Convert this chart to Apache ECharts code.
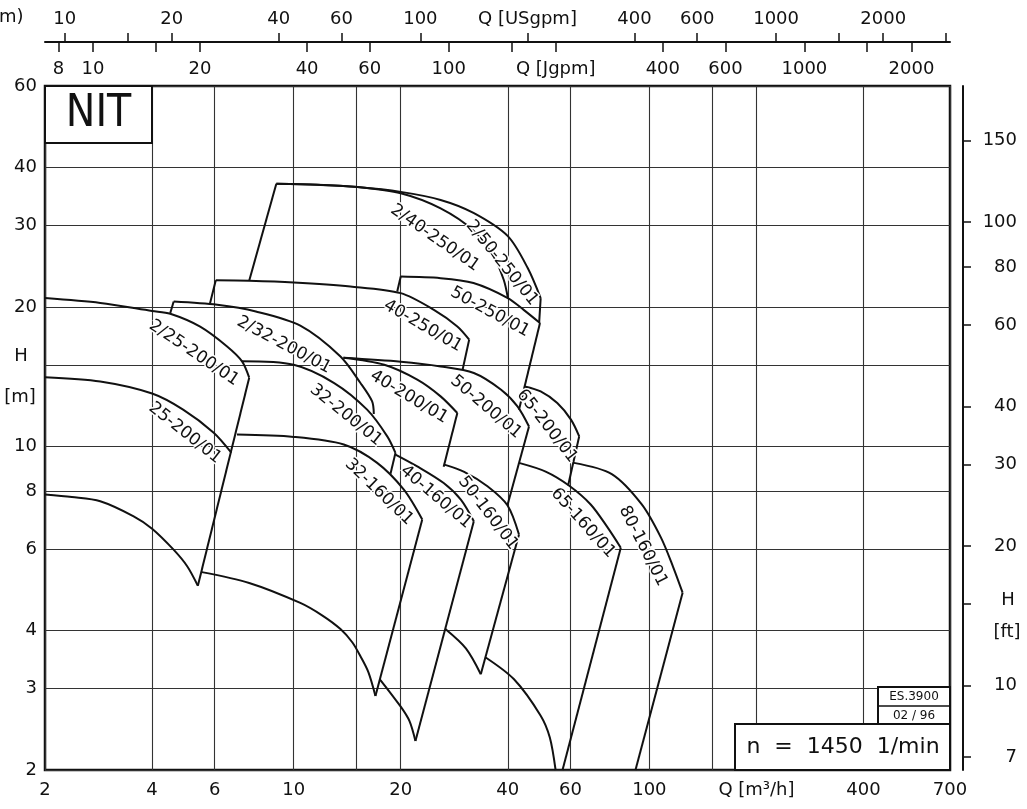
<!DOCTYPE html>
<html><head><meta charset="utf-8">
<script src="https://cdn.jsdelivr.net/npm/echarts@6/dist/echarts.min.js"></script>
<style>html,body{margin:0;padding:0;background:#fff}#c{width:1027px;height:809px}</style>
</head><body><div id="c"></div>
<script>
// ---------- tick labels ----------
const qTicks  = [2,4,6,10,15,20,40,60,100,150,200,400,700];
const qLabels = [2,4,6,10,20,40,60,100,200,400,700];
const hTicks  = [2,3,4,6,8,10,15,20,30,40,60];
const hLabels = [2,3,4,6,8,10,20,30,40,60];
const usTicks  = [10,15,20,40,60,100,200,400,600,1000,1500,2000,3000];
const usLabels = [10,20,40,60,100,200,400,600,1000,2000];
const igTicks  = [8,10,15,20,40,60,100,150,200,400,600,1000,1500,2000];
const igLabels = [8,10,20,40,60,100,200,400,600,1000,2000];
const ftTicks  = [7,10,15,20,30,40,60,80,100,150];
const ftLabels = [7,10,20,30,40,60,80,100,150];

// ---------- curves: [Q m3/h, H m] ----------
const pump25_200_top    = [[2,14.1],[2.86,13.8],[4,13.0],[4.89,12.0],[5.96,10.7],[6.68,9.69]];
const pump25_200_bottom = [[2,7.87],[2.38,7.77],[2.86,7.61],[3.55,7.06],[4,6.64],[4.59,5.99],[5.02,5.51],[5.38,5.0]];
const pump2_25_200_top  = [[2,20.9],[2.86,20.4],[4,19.6],[4.5,19.33],[5.46,18.13],[6.5,16.43],[7.16,15.26],[7.5,14.07]];
const edge25_200        = [[7.5,14.07],[5.38,5.0]];

const pump2_32_200_top  = [[4.6,20.54],[6.1,20.21],[7.83,19.55],[10.44,18.22],[13.54,15.63],[15.41,13.7],[16.62,12.5],[16.8,11.75]];
const edge2_32_200      = [[4.5,19.4],[4.6,20.54]];

const pump32_200_top    = [[7.16,15.26],[10,15.0],[13,13.7],[16.09,12.0],[18.33,10.51],[19.33,9.68]];
const edge32_200        = [[19.33,9.68],[18.72,8.73]];

const pump32_160_top    = [[6.93,10.6],[10,10.48],[13.83,10.09],[17.17,9.21],[20.41,8.06],[22.99,6.95]];
const pump32_160_bottom = [[5.52,5.35],[7.5,5.07],[10.44,4.59],[12.05,4.31],[13.54,4.03],[14.63,3.77],[15.41,3.52],[16.23,3.25],[16.98,2.89]];
const edge32_160        = [[22.99,6.95],[16.98,2.89]];

const pump40_250_top    = [[6.04,22.83],[7.5,22.78],[10,22.59],[14.44,22.14],[20,21.42],[24.79,19.71],[28.85,18.15],[31.15,17.0]];
const edge40_250_left   = [[5.82,20.38],[6.04,22.83]];
const edge40_250_right  = [[31.15,17.0],[29.85,14.64]];

const edge2_40_250      = [[7.5,22.78],[8.94,36.9]];
const pump2_40_250_top  = [[8.94,36.9],[11.66,36.72],[15.12,36.31],[20,35.2],[25.89,32.65],[32.03,29.23],[36.56,25.65],[38.95,22.89],[40,20.95]];
const pump2_50_250_top  = [[8.94,36.9],[11.66,36.72],[15.12,36.31],[20,35.44],[25.89,34.05],[32.03,31.92],[40,28.44],[45.5,24.27],[49.48,20.9]];
const edge2_50_250      = [[49.48,20.9],[49.0,18.5]];

const pump50_250_top    = [[20,23.26],[25.89,23.08],[32.03,22.52],[40,20.9],[44.33,19.71],[49.26,18.46]];
const edge50_250_left   = [[19.55,21.6],[20,23.26]];
const edge50_250_right  = [[49.26,18.46],[43.0,12.0]];

const pump40_200_top    = [[13.8,15.53],[17.98,15.0],[22.26,13.93],[25.89,12.82],[28.85,11.8]];
const edge40_200        = [[28.85,11.8],[26.41,9.04]];

const pump50_200_top    = [[13.8,15.53],[20,15.23],[25.89,14.88],[32.1,14.4],[38.3,13.25],[42.57,12.2],[45.88,11.04]];
const edge50_200        = [[45.88,11.04],[39.9,7.46]];

const pump40_160_top    = [[19.33,9.6],[22.26,9.05],[26.41,8.33],[29.51,7.67],[32.1,6.89]];
const pump40_160_bottom = [[17.47,3.14],[20,2.74],[21.17,2.55],[22.0,2.31]];
const edge40_160        = [[32.1,6.89],[22.0,2.31]];

const pump50_160_top    = [[26.53,9.13],[30.16,8.81],[35.06,8.2],[39.9,7.46],[43.0,6.45]];
const pump50_160_bottom = [[26.7,4.03],[30.49,3.66],[33.58,3.22]];
const edge50_160        = [[43.0,6.45],[33.58,3.22]];

const pump65_200_top    = [[44.6,13.47],[49.48,13.14],[55.1,12.4],[60.2,11.42],[63.5,10.51]];
const edge65_200        = [[63.5,10.51],[59.1,8.23]];

const pump65_160_top    = [[43.0,9.21],[51.1,8.82],[59.4,8.23],[68.4,7.49],[76.2,6.69],[83.1,6.04]];
const pump65_160_bottom = [[34.67,3.5],[41.64,3.14],[49.48,2.62],[52.5,2.35],[54.5,2.0]];
const edge65_160        = [[83.1,6.04],[57.0,2.0]];

const pump80_160_top    = [[61.35,9.21],[78.4,8.71],[95.2,7.49],[107.8,6.35],[116.5,5.5],[124,4.83]];
const edge80_160        = [[124,4.83],[91.4,2.0]];

const curveNames = ['2/25-200/01','25-200/01','2/32-200/01','32-200/01','32-160/01','40-250/01',
  '2/40-250/01','2/50-250/01','50-250/01','40-200/01','50-200/01','65-200/01',
  '40-160/01','50-160/01','65-160/01','80-160/01'];

// ---------- layout (text placement only) ----------
const labelLayout = [
  [194,353,34],[185,433,38.5],[284,345,28],[346,415,39],[379,492,44],[423,326,30],
  [435,238,35],[502,263,51],[490,312,28.5],[409,397,31],[486,407,40.5],[547,426,52],
  [436,497,40.5],[488,513,52.6],[583,523,48],[643,546,63]
];

const US_PER_M3H = 4.40287, IG_PER_M3H = 3.66615, FT_PER_M = 3.28084;
const FONT = "'DejaVu Sans', sans-serif";
const INK = '#111';

const smoothCurves = [pump25_200_top,pump25_200_bottom,pump2_25_200_top,pump2_32_200_top,pump32_200_top,
  pump32_160_top,pump32_160_bottom,pump40_250_top,pump2_40_250_top,pump2_50_250_top,pump50_250_top,
  pump40_200_top,pump50_200_top,pump40_160_top,pump40_160_bottom,pump50_160_top,pump50_160_bottom,
  pump65_200_top,pump65_160_top,pump65_160_bottom,pump80_160_top];
const edges = [edge25_200,edge2_32_200,edge32_200,edge32_160,edge40_250_left,edge40_250_right,edge2_40_250,
  edge2_50_250,edge50_250_left,edge50_250_right,edge40_200,edge50_200,edge40_160,edge50_160,edge65_200,
  edge65_160,edge80_160];

function fmt(name){
  return function(v){
    const r = Math.round(v*1000)/1000;
    if (name && Math.abs(r-200) < 0.5) return name;
    return String(Math.round(r));
  };
}
const lab = {color:INK, fontSize:18, fontFamily:FONT};

const series = [];
smoothCurves.forEach(d => series.push({type:'line', data:d, smooth:0.3, symbol:'none',
  lineStyle:{color:INK, width:2}, silent:true, z:3}));
edges.forEach(d => series.push({type:'line', data:d, symbol:'none',
  lineStyle:{color:INK, width:2}, silent:true, z:3}));

const graphics = [];
curveNames.forEach((t,i) => {
  const [x,y,a] = labelLayout[i];
  graphics.push({type:'text', x:x, y:y, rotation:-a*Math.PI/180, z:50,
    style:{text:t, fill:INK, font:"17px 'DejaVu Sans'", align:'center', verticalAlign:'middle', stroke:'#fff', lineWidth:3}});
});
// boxes
graphics.push({type:'rect', shape:{x:45,y:86,width:107,height:57}, z:60, style:{fill:'#fff', stroke:INK, lineWidth:2}});
graphics.push({type:'text', x:98.5, y:115, z:61, style:{text:'NIT', fill:INK, font:"44px 'DejaVu Sans Condensed','DejaVu Sans'", align:'center', verticalAlign:'middle'}});
graphics.push({type:'rect', shape:{x:878,y:687,width:72,height:37}, z:60, style:{fill:'#fff', stroke:INK, lineWidth:2}});
graphics.push({type:'line', shape:{x1:878,y1:706,x2:950,y2:706}, z:61, style:{stroke:INK, lineWidth:1.5}});
graphics.push({type:'text', x:914, y:697, z:61, style:{text:'ES.3900', fill:INK, font:"12px 'DejaVu Sans'", align:'center', verticalAlign:'middle'}});
graphics.push({type:'text', x:914, y:715.5, z:61, style:{text:'02 / 96', fill:INK, font:"12px 'DejaVu Sans'", align:'center', verticalAlign:'middle'}});
graphics.push({type:'rect', shape:{x:735,y:724,width:215,height:46}, z:60, style:{fill:'#fff', stroke:INK, lineWidth:2}});
graphics.push({type:'text', x:843, y:747, z:61, style:{text:'n  =  1450  1/min', fill:INK, font:"22px 'DejaVu Sans'", align:'center', verticalAlign:'middle'}});
// axis titles
graphics.push({type:'text', x:21, y:356, z:61, style:{text:'H', fill:INK, font:"18px 'DejaVu Sans'", align:'center', verticalAlign:'middle'}});
graphics.push({type:'text', x:20, y:397, z:61, style:{text:'[m]', fill:INK, font:"18px 'DejaVu Sans'", align:'center', verticalAlign:'middle'}});
graphics.push({type:'text', x:1008, y:600, z:61, style:{text:'H', fill:INK, font:"18px 'DejaVu Sans'", align:'center', verticalAlign:'middle'}});
graphics.push({type:'text', x:1007, y:632, z:61, style:{text:'[ft]', fill:INK, font:"18px 'DejaVu Sans'", align:'center', verticalAlign:'middle'}});
graphics.push({type:'text', x:-1, y:17, z:61, style:{text:'m)', fill:INK, font:"18px 'DejaVu Sans'", align:'left', verticalAlign:'middle'}});

const chart = echarts.init(document.getElementById('c'), null, {renderer:'canvas'});
chart.setOption({
  animation:false,
  backgroundColor:'#fff',
  grid:{left:45, top:86, right:77, bottom:39, show:true, borderColor:INK, borderWidth:2.5,
        backgroundColor:'transparent', containLabel:false, outerBoundsMode:'none'},
  xAxis:[
    {type:'log', logBase:10, min:2, max:700, position:'bottom',
     axisLine:{show:false}, axisTick:{show:false, customValues:qTicks},
     axisLabel:Object.assign({customValues:qLabels, formatter:fmt('Q [m³/h]'), margin:11}, lab),
     splitLine:{show:true, lineStyle:{color:'#333', width:1.1}}, minorTick:{show:false}},
    {type:'log', logBase:10, min:2*US_PER_M3H, max:700*US_PER_M3H, position:'top', offset:44,
     axisLine:{show:true, lineStyle:{color:INK, width:2}},
     axisTick:{show:true, inside:false, length:9, customValues:usTicks, lineStyle:{color:INK, width:1.5}},
     axisLabel:Object.assign({customValues:usLabels, formatter:fmt('Q [USgpm]'), margin:14}, lab),
     splitLine:{show:false}},
    {type:'log', logBase:10, min:2*IG_PER_M3H, max:700*IG_PER_M3H, position:'top', offset:44,
     axisLine:{show:false},
     axisTick:{show:true, inside:true, length:10, customValues:igTicks, lineStyle:{color:INK, width:1.5}},
     axisLabel:Object.assign({customValues:igLabels, formatter:fmt('Q [Jgpm]'), inside:true, margin:18}, lab),
     splitLine:{show:false}}
  ],
  yAxis:[
    {type:'log', logBase:10, min:2, max:60, position:'left',
     axisLine:{show:false}, axisTick:{show:false, customValues:hTicks},
     axisLabel:Object.assign({customValues:hLabels, formatter:fmt(null), margin:8}, lab),
     splitLine:{show:true, lineStyle:{color:'#333', width:1.1}}, minorTick:{show:false}},
    {type:'log', logBase:10, min:2*FT_PER_M, max:60*FT_PER_M, position:'right', offset:13,
     axisLine:{show:true, lineStyle:{color:INK, width:2}},
     axisTick:{show:true, inside:false, length:8, customValues:ftTicks, lineStyle:{color:INK, width:1.5}},
     axisLabel:Object.assign({customValues:ftLabels, formatter:fmt(null), align:'right', margin:54}, lab),
     splitLine:{show:false}}
  ],
  series: series,
  graphic: graphics
});
</script></body></html>
